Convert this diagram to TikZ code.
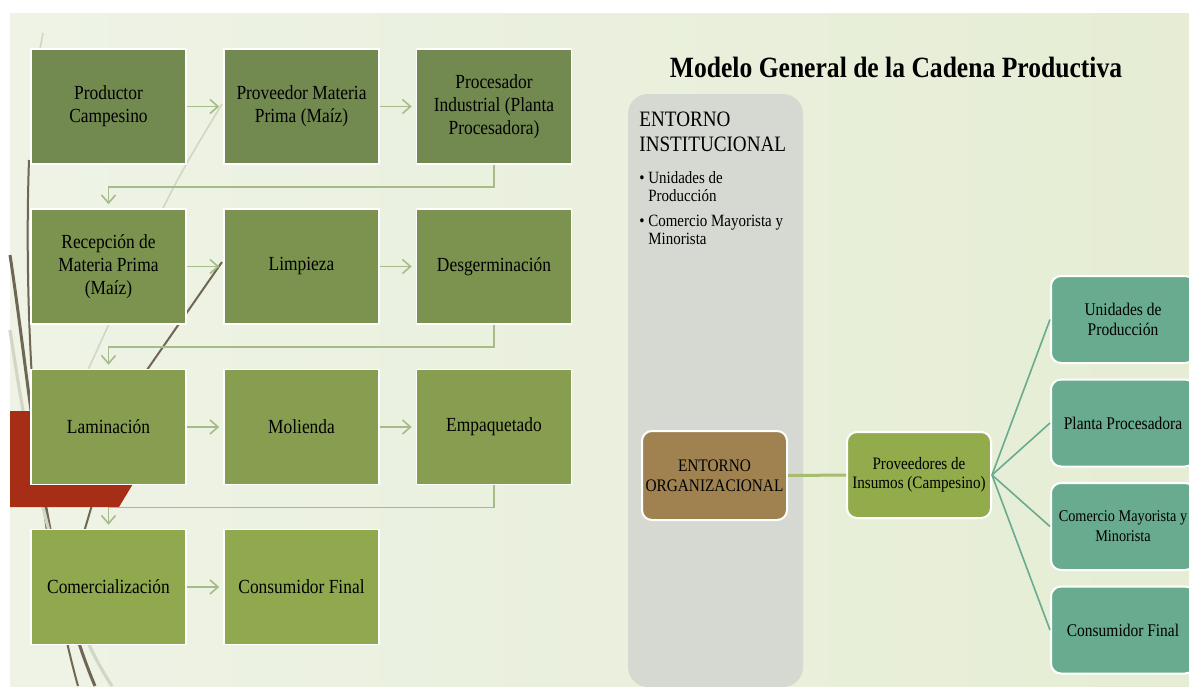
\documentclass[tikz,border=0pt]{standalone}
\usepackage{fontspec}
\setmainfont[FakeStretch=0.87]{Liberation Serif}
\usetikzlibrary{arrows.meta}

\definecolor{slideleft}{RGB}{238,243,230}
\definecolor{slidemid}{RGB}{253,253,250}
\definecolor{slideright}{RGB}{230,237,212}
\definecolor{rowa}{RGB}{114,138,80}
\definecolor{rowb}{RGB}{123,147,79}
\definecolor{rowc}{RGB}{135,158,80}
\definecolor{rowd}{RGB}{145,169,78}
\definecolor{flowgreen}{RGB}{165,187,136}
\definecolor{instgray}{RGB}{214,217,210}
\definecolor{orgbrown}{RGB}{160,130,80}
\definecolor{suppgreen}{RGB}{146,171,75}
\definecolor{teal}{RGB}{104,171,143}
\definecolor{redbar}{RGB}{166,46,22}
\definecolor{wispdark}{RGB}{112,102,84}
\definecolor{wisplight}{RGB}{210,214,196}

\tikzset{
  stage/.style={draw=white, line width=0.8pt, minimum width=77.5pt, minimum height=57.5pt,
    align=center, inner sep=1pt, font=\fontsize{10}{11.5}\selectfont},
  flow/.style={draw=flowgreen, line width=0.8pt, -{Straight Barb[length=4pt,width=7pt]},
    shorten >=2pt},
  instbox/.style={fill=instgray, rounded corners=10pt, minimum width=87.5pt, minimum height=296.5pt},
  orgbox/.style={fill=orgbrown, draw=white, line width=1pt, rounded corners=5pt,
    minimum width=72.5pt, minimum height=44.5pt, align=center, inner sep=1pt,
    font=\fontsize{8.8}{9.8}\selectfont},
  suppbox/.style={orgbox, fill=suppgreen, minimum width=72pt, minimum height=43pt,
    font=\fontsize{8.7}{9.8}\selectfont},
  leaf/.style={fill=teal, draw=white, line width=1pt, rounded corners=5pt,
    minimum width=72pt, minimum height=43.5pt, align=center, inner sep=1pt,
    font=\fontsize{8.9}{10}\selectfont},
  link/.style={draw=suppgreen!80!white, line width=1.5pt},
  fan/.style={draw=teal, line width=0.8pt},
  wisp/.style={draw=wispdark, line width=1pt},
  wispl/.style={draw=wisplight, line width=0.8pt}
}

\begin{document}
\begin{tikzpicture}[x=0.5pt,y=-0.5pt]
\useasboundingbox (0,0) rectangle (1189,686);
\clip (0,0) rectangle (1189,686);
\fill[white] (0,0) rectangle (1189,686);
\shade[left color=slideleft, middle color=slidemid, right color=slideright] (10,13) rectangle (1189,686);

% background wisps
\draw[wispl] (43,33) -- (40,49);
\draw[wispl] (222,104) .. controls (170,190) .. (88,370);
\draw[wisp] (222,262) -- (140,380);
\draw[wisp] (29,160) .. controls (24,300) and (32,520) .. (78,686);
\draw[wisp, line width=1.5pt] (10,255) .. controls (32,400) and (42,560) .. (95,686);
\draw[wispl, line width=1.6pt] (10,330) .. controls (28,450) and (55,600) .. (112,686);
\draw[wisp] (92,505) -- (84,532);
\fill[redbar] (10,411) -- (177,411) -- (119,507) -- (10,507) -- cycle;

% production chain
\node[stage, fill=rowa] (prod) at (108.5,106.5) {Productor\\Campesino};
\node[stage, fill=rowa] (mat) at (301.5,106.5) {Proveedor Materia\\Prima (Maíz)};
\node[stage, fill=rowa] (proc) at (494,106.5) {Procesador\\Industrial (Planta\\Procesadora)};
\node[stage, fill=rowb] (recep) at (108.5,266.5) {Recepción de\\Materia Prima\\(Maíz)};
\node[stage, fill=rowb] (limp) at (301.5,266.5) {Limpieza};
\node[stage, fill=rowb] (desg) at (494,266.5) {Desgerminación};
\node[stage, fill=rowc] (lamin) at (108.5,427) {Laminación};
\node[stage, fill=rowc] (mol) at (301.5,427) {Molienda};
\node[stage, fill=rowc] (emp) at (494,427) {Empaquetado};
\node[stage, fill=rowd] (com) at (108.5,587) {Comercialización};
\node[stage, fill=rowd] (cons) at (301.5,587) {Consumidor Final};

\draw[flow] (prod) -- (mat);
\draw[flow] (mat) -- (proc);
\draw[flow] (recep) -- (limp);
\draw[flow] (limp) -- (desg);
\draw[flow] (lamin) -- (mol);
\draw[flow] (mol) -- (emp);
\draw[flow] (com) -- (cons);
\draw[flow] (proc.south) -- ++(0,22) -| (recep.north);
\draw[flow] (desg.south) -- ++(0,22) -| (lamin.north);
\draw[flow] (emp.south) -- ++(0,22) -| (com.north);

% general model
\node[font=\fontsize{14.7}{17}\selectfont\bfseries] (title) at (896,67) {Modelo General de la Cadena Productiva};
\node[instbox] (inst) at (715.5,390.5) {};
\node[anchor=north west, inner sep=0pt, align=left, font=\fontsize{11}{12.5}\selectfont] (insthead) at (639,112)
  {ENTORNO\\INSTITUCIONAL};
\node[anchor=north west, inner sep=0pt, align=left, font=\fontsize{8.6}{9.1}\selectfont] (instlist) at (639,171)
  {\textbullet\ Unidades de\\\hphantom{\textbullet\ }Producción\\[3.5pt]
   \textbullet\ Comercio Mayorista y\\\hphantom{\textbullet\ }Minorista};

\node[orgbox] (org) at (714.5,475.5) {ENTORNO\\ORGANIZACIONAL};
\node[suppbox] (supp) at (919,475) {Proveedores de\\Insumos (Campesino)};
\draw[link] (org) -- (supp);

\node[leaf] (unid) at (1123,319.5) {Unidades de\\Producción};
\node[leaf] (planta) at (1123,423) {Planta Procesadora};
\node[leaf, font=\fontsize{8.2}{10}\selectfont] (comer) at (1123,526.5) {Comercio Mayorista y\\Minorista};
\node[leaf] (consu) at (1123,630) {Consumidor Final};
\foreach \n in {unid,planta,comer,consu}
  \draw[fan] (supp.east) -- (\n.west);
\end{tikzpicture}
\end{document}
